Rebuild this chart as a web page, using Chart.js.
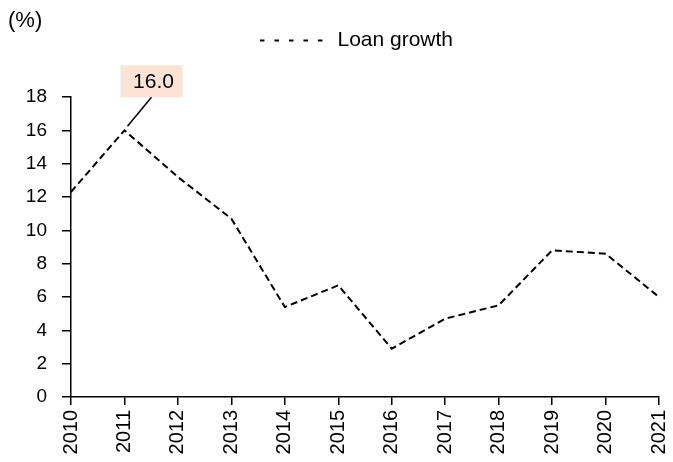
<!DOCTYPE html>
<html>
<head>
<meta charset="utf-8">
<script src="https://cdn.jsdelivr.net/npm/chart.js@4/dist/chart.umd.min.js"></script>
<style>
  html, body { margin: 0; padding: 0; background: #fff; }
  #wrap { width: 673px; height: 462px; }
</style>
</head>
<body>
<div id="wrap"><canvas id="loanCanvas"></canvas></div>
<script>
////////////data////////////
var years = ['2010', '2011', '2012', '2013', '2014', '2015', '2016', '2017', '2018', '2019', '2020', '2021'];
var loanGrowth = [12.3, 16.0, 13.2, 10.7, 5.4, 6.7, 2.9, 4.7, 5.5, 8.8, 8.6, 6.0];
var seriesName = 'Loan growth';
var unitLabel = '(%)';
var calloutIndex = 1; //the 2011 peak gets a label box

var FONT = "'Liberation Sans', Arial, sans-serif";

////////////extra drawing: unit text + callout box////////////
var calloutPlugin = {
	id: 'callout',
	afterDraw: function(chart) {
		var ctx = chart.ctx;
		ctx.save();
		ctx.fillStyle = '#000';
		ctx.font = '22px ' + FONT;
		ctx.textBaseline = 'middle';
		ctx.textAlign = 'left';
		ctx.fillText(unitLabel, 8, 21);

		var pt = chart.getDatasetMeta(0).data[calloutIndex];
		var boxW = 62, boxH = 32;
		var boxX = pt.x - 4, boxY = pt.y - 65;
		ctx.fillStyle = '#fbe3d6';
		ctx.fillRect(boxX, boxY, boxW, boxH);
		ctx.fillStyle = '#000';
		ctx.textAlign = 'center';
		ctx.font = '21px ' + FONT;
		ctx.fillText(loanGrowth[calloutIndex].toFixed(1), boxX + boxW / 2 + 2, boxY + boxH / 2 + 1);

		//leader line
		ctx.strokeStyle = '#000';
		ctx.lineWidth = 1.5;
		ctx.setLineDash([]);
		ctx.beginPath();
		ctx.moveTo(pt.x + 27, boxY + boxH);
		ctx.lineTo(pt.x + 3, pt.y - 4);
		ctx.stroke();
		ctx.restore();
	}
};

////////////create chart////////////
var myChart = new Chart(document.getElementById('loanCanvas'), {
	type: 'line',
	data: {
		labels: years,
		datasets: [{
			label: seriesName,
			data: loanGrowth,
			borderColor: '#000',
			borderWidth: 2,
			borderDash: [7, 4],
			fill: false,
			tension: 0,
			pointRadius: 0
		}]
	},
	options: {
		responsive: true,
		maintainAspectRatio: false,
		animation: false,
		//negative right padding pushes the centred legend to the right like the original
		layout: { padding: { left: 8, right: -32, top: 30, bottom: 0 } },
		plugins: {
			legend: {
				position: 'top',
				weight: 3000,
				labels: {
					usePointStyle: true,
					pointStyle: 'line',
					pointStyleWidth: 67,
					padding: 0,
					color: '#000',
					font: { family: FONT, size: 21 },
					generateLabels: function(chart) {
						var items = Chart.defaults.plugins.legend.labels.generateLabels(chart);
						items.forEach(function(it) {
							it.lineDash = [4.5, 10];
							it.lineWidth = 2;
							it.strokeStyle = '#000';
						});
						return items;
					}
				}
			},
			//empty title used as a spacer between the legend and the plot
			title: {
				display: true,
				text: '',
				font: { size: 1, lineHeight: 1 },
				padding: { top: 35, bottom: 0 }
			},
			tooltip: { enabled: false }
		},
		scales: {
			x: {
				offset: false,
				grid: { display: true, drawOnChartArea: false, drawTicks: true, tickLength: 8, color: '#000', lineWidth: 1.5 },
				border: { display: true, color: '#000', width: 1.5 },
				ticks: {
					color: '#000',
					font: { family: FONT, size: 20 },
					maxRotation: 90,
					minRotation: 90,
					padding: 5,
					autoSkip: false
				},
				afterFit: function(scale) {
					scale.height = 65;
					scale.paddingRight = 14;
				}
			},
			y: {
				min: 0,
				max: 18,
				grid: { display: true, drawOnChartArea: false, drawTicks: true, tickLength: 9, color: '#000', lineWidth: 1.5 },
				border: { display: true, color: '#000', width: 1.5 },
				ticks: {
					stepSize: 2,
					color: '#000',
					font: { family: FONT, size: 19 },
					padding: 15
				},
				afterFit: function(scale) {
					scale.width = 63;
				}
			}
		}
	},
	plugins: [calloutPlugin]
}); //end new Chart
</script>
</body>
</html>
